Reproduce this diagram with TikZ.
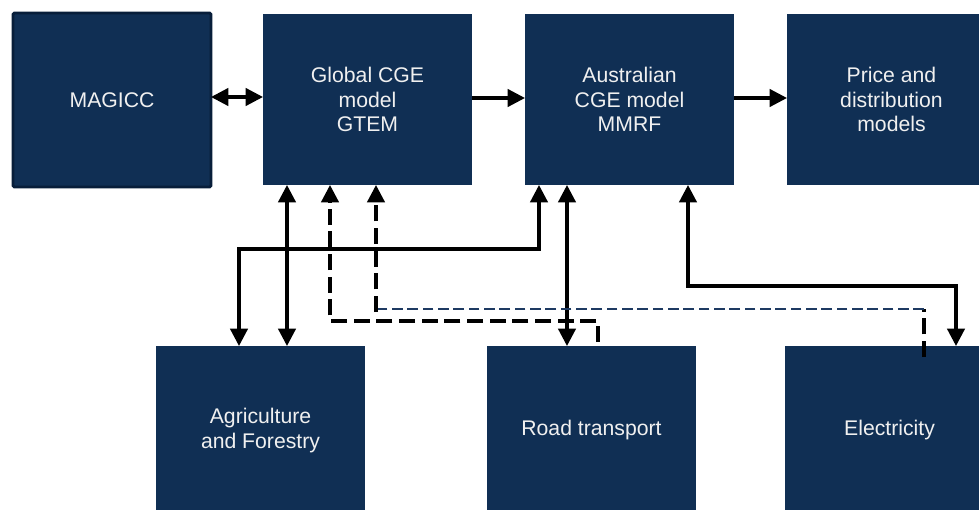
\documentclass[tikz,border=0pt]{standalone}
\usepackage{fontspec}
\setmainfont{Liberation Sans}
\usetikzlibrary{arrows.meta,calc}
\definecolor{boxfill}{RGB}{16,47,84}
\definecolor{boxedge}{RGB}{8,30,58}
\definecolor{dashblue}{RGB}{30,58,98}
\definecolor{txt}{RGB}{240,240,240}
\begin{document}
\begin{tikzpicture}[x=0.75pt,y=-0.75pt,
  blk/.style={fill=boxfill,draw=none,inner sep=0pt,outer sep=0pt,
    minimum width=156.75pt,minimum height=128.25pt,
    text=txt,align=center,font=\fontsize{15.9}{18.4}\selectfont},
  lowblk/.style={blk,minimum height=126.75pt},
  conn/.style={line width=2.4pt,line join=miter},
  tip/.style={-{Triangle[length=13pt,width=13pt]}},
  both/.style={{Triangle[length=13pt,width=13pt]}-{Triangle[length=13pt,width=13pt]}},
  dsh/.style={line width=2.4pt,dash pattern=on 12pt off 5pt},
  bdsh/.style={line width=2.1pt,draw=dashblue,dash pattern=on 8pt off 3.5pt}]
\useasboundingbox (0,0) rectangle (979,510);
\begin{scope}
\clip (0,0) rectangle (979,510);
\node[blk,draw=boxedge,line width=2.2pt,rounded corners=1pt,minimum width=148.5pt,minimum height=130.5pt] (magicc) at (112,100) {MAGICC};
\node[blk] (gtem) at (367.5,99.5) {Global CGE\\model\\GTEM};
\node[blk] (aus) at (629.5,99.5) {Australian\\CGE model\\MMRF};
\node[blk] (price) at (891.5,99.5) {Price and\\distribution\\models};
\node[lowblk] (agri) at (260.5,430.5) {Agriculture\\and Forestry};
\node[lowblk] (road) at (591.5,430.5) {Road transport};
\node[lowblk] (elec) at (889.5,430.5) {Electricity};
\end{scope}
% top row
\draw[conn,both] (magicc.east |- 0,97) -- (gtem.west |- 0,97);
\draw[conn,tip] (gtem.east |- 0,98) -- (aus.west |- 0,98);
\draw[conn,tip] (aus.east |- 0,98) -- (price.west |- 0,98);
% agriculture links
\draw[conn,both] (agri.north -| 287,0) -- (gtem.south -| 287,0);
\draw[conn,both] (agri.north -| 239,0) |- (539,249) -- (aus.south -| 539,0);
% road links
\draw[conn,both] (road.north -| 567,0) -- (aus.south -| 567,0);
\coordinate (r1) at (598,342);
\draw[dsh,tip] (r1) |- (330,321) -- (gtem.south -| 330,0);
% electricity links
\draw[conn,both] (aus.south -| 688,0) |- (956,286) -- (elec.north -| 956,0);
\coordinate (e1) at (924,357);
\coordinate (e2) at (924,309);
\coordinate (e3) at (376,309);
\draw[dsh] (e1) -- (e2);
\draw[bdsh] (e2) -- (e3);
\draw[dsh,tip] ($(e3)+(0,3)$) -- (gtem.south -| 376,0);
\end{tikzpicture}
\end{document}
